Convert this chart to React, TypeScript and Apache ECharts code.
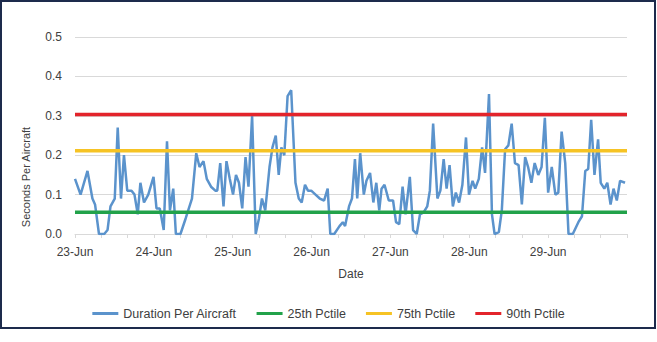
import React, { useEffect, useRef } from "react";
import * as echarts from "echarts";

// Tick labels (one per day, every 24 hours)
const dayLabels = ["23-Jun", "24-Jun", "25-Jun", "26-Jun", "27-Jun", "28-Jun", "29-Jun"];

// Hours since 23-Jun 00:00 for each reading
const hours = [
  0, 1.7, 3.8, 5.3, 6.1, 7.3, 8.9, 9.9, 10.8, 12.1,
  13.0, 14.0, 14.9, 15.9, 17.2, 18.1, 19.1, 19.9, 21.0, 22.3,
  23.9, 24.8, 25.8, 27.0, 28.0, 28.9, 29.9, 30.7, 32.1, 33.7,
  35.6, 36.9, 37.9, 39.1, 40.1, 41.4, 42.7, 43.3, 44.2, 45.2,
  46.1, 47.1, 48.1, 49.0, 49.9, 50.9, 51.9, 52.8, 53.9, 55.0,
  56.0, 56.9, 57.9, 59.2, 60.1, 61.1, 62.0, 62.8, 63.7, 64.7,
  65.8, 67.1, 68.1, 69.0, 70.0, 70.9, 71.9, 73.2, 74.5, 75.8,
  76.9, 77.7, 78.9, 80.5, 81.5, 82.2, 83.4, 84.3, 85.2, 85.9,
  86.8, 87.9, 88.7, 89.8, 90.8, 91.7, 92.6, 93.3, 94.2, 95.5,
  96.8, 97.7, 98.7, 99.7, 100.6, 101.9, 102.9, 104.0, 105.0, 106.1,
  107.2, 108.0, 109.0, 110.3, 111.2, 112.2, 113.1, 114.0, 115.0, 115.9,
  116.9, 117.9, 119.0, 119.9, 121.0, 121.8, 122.9, 123.9, 124.8, 126.0,
  126.9, 127.7, 129.0, 129.9, 130.9, 131.9, 132.9, 133.9, 135.0, 136.0,
  137.0, 137.9, 138.9, 139.9, 141.0, 142.0, 143.0, 144.0, 145.1, 146.2,
  147.1, 148.1, 149.2, 150.2, 151.5, 153.2, 154.3, 155.3, 156.2, 157.1,
  158.1, 159.2, 160.0, 161.1, 162.0, 163.0, 163.9, 164.9, 165.9, 167.4,
];

// Duration per aircraft (seconds)
const duration = [
  0.14, 0.10, 0.16, 0.09, 0.075, 0.0, 0.0, 0.01, 0.07, 0.09,
  0.27, 0.09, 0.20, 0.11, 0.11, 0.10, 0.05, 0.13, 0.08, 0.10,
  0.145, 0.065, 0.065, 0.01, 0.235, 0.06, 0.115, 0.0, 0.0, 0.04,
  0.09, 0.205, 0.17, 0.185, 0.14, 0.12, 0.11, 0.11, 0.18, 0.07,
  0.185, 0.14, 0.10, 0.15, 0.13, 0.065, 0.195, 0.12, 0.30, 0.0,
  0.04, 0.09, 0.06, 0.17, 0.22, 0.25, 0.15, 0.22, 0.20, 0.35,
  0.365, 0.13, 0.09, 0.08, 0.125, 0.11, 0.11, 0.10, 0.09, 0.085,
  0.115, 0.0, 0.0, 0.02, 0.03, 0.02, 0.07, 0.09, 0.19, 0.09,
  0.205, 0.10, 0.135, 0.155, 0.08, 0.13, 0.06, 0.115, 0.125, 0.085,
  0.085, 0.03, 0.025, 0.12, 0.05, 0.145, 0.01, 0.0, 0.05, 0.055,
  0.07, 0.11, 0.28, 0.09, 0.11, 0.19, 0.115, 0.175, 0.07, 0.105,
  0.08, 0.125, 0.245, 0.10, 0.135, 0.115, 0.14, 0.22, 0.155, 0.355,
  0.05, 0.0, 0.005, 0.06, 0.215, 0.225, 0.28, 0.18, 0.175, 0.075,
  0.195, 0.17, 0.13, 0.18, 0.15, 0.17, 0.295, 0.105, 0.17, 0.10,
  0.105, 0.26, 0.18, 0.0, 0.0, 0.03, 0.045, 0.16, 0.165, 0.29,
  0.15, 0.24, 0.13, 0.115, 0.13, 0.075, 0.115, 0.085, 0.135, 0.13,
];

// Percentile reference lines
const pctileNames = ["25th Pctile", "75th Pctile", "90th Pctile"];
const pctileValues = [0.055, 0.211, 0.303];
const pctileColors = ["#22a24a", "#f6c324", "#e3242b"];

const seriesName = "Duration Per Aircraft";
const FONT = "'Liberation Sans', Arial, sans-serif";
const TEXT = "#404040";

export default function App() {
  const ref = useRef<HTMLDivElement>(null);

  useEffect(() => {
    if (!ref.current) return;
    const chart = echarts.init(ref.current, undefined, { renderer: "svg" });

    const lineData = hours.map((h, i) => [h, duration[i]]);
    const pctSeries = pctileNames.map((name, i) => ({
      name,
      type: "line",
      data: [
        [0, pctileValues[i]],
        [168, pctileValues[i]],
      ],
      symbol: "none",
      lineStyle: { color: pctileColors[i], width: 3.5 },
      itemStyle: { color: pctileColors[i] },
    }));

    chart.setOption({
      animation: false,
      backgroundColor: "#ffffff",
      textStyle: { fontFamily: FONT },
      grid: { left: 75, right: 30, top: 37, bottom: 108 },
      xAxis: {
        type: "value",
        min: 0,
        max: 168,
        interval: 24,
        axisLine: { show: true, lineStyle: { color: "#d9d9d9", width: 1 } },
        axisTick: { show: true, length: 4, lineStyle: { color: "#d9d9d9" } },
        minorTick: { show: true, splitNumber: 3, length: 4, lineStyle: { color: "#d9d9d9" } },
        splitLine: { show: false },
        axisLabel: {
          formatter: (v: number) => dayLabels[Math.round(v / 24)] ?? "",
          color: TEXT,
          fontSize: 12,
          margin: 12,
          fontFamily: FONT,
        },
        name: "Date",
        nameLocation: "middle",
        nameGap: 34,
        nameTextStyle: { color: TEXT, fontSize: 12, fontFamily: FONT },
      },
      yAxis: {
        type: "value",
        min: 0,
        max: 0.5,
        interval: 0.1,
        axisLine: { show: false },
        axisTick: { show: false },
        splitLine: { lineStyle: { color: "#d9d9d9", width: 1 } },
        axisLabel: {
          formatter: (v: number) => v.toFixed(1),
          color: TEXT,
          fontSize: 12,
          margin: 13,
          fontFamily: FONT,
        },
      },
      legend: {
        top: 302,
        left: "center",
        icon: "rect",
        itemWidth: 26,
        itemHeight: 3,
        itemGap: 20,
        textStyle: { color: TEXT, fontSize: 12.5, fontFamily: FONT },
        data: [seriesName, ...pctileNames],
      },
      graphic: [
        {
          type: "rect",
          shape: { x: 1, y: 1, width: 654, height: 327 },
          style: { fill: "none", stroke: "#1d2b4c", lineWidth: 2 },
          silent: true,
        },
        {
          type: "text",
          x: 26,
          y: 177,
          rotation: Math.PI / 2,
          style: {
            text: "Seconds Per Aircraft",
            fill: TEXT,
            fontSize: 11,
            fontFamily: FONT,
            textAlign: "center",
            textVerticalAlign: "middle",
          },
        },
      ],
      series: [
        {
          name: seriesName,
          type: "line",
          data: lineData,
          symbol: "none",
          lineStyle: { color: "#5b93cc", width: 2.5 },
          itemStyle: { color: "#5b93cc" },
        },
        ...pctSeries,
      ],
    });

    return () => chart.dispose();
  }, []);

  return (
    <div
      ref={ref}
      style={{ position: "absolute", left: 0, top: 0, width: 657, height: 342, background: "#fff" }}
    />
  );
}
